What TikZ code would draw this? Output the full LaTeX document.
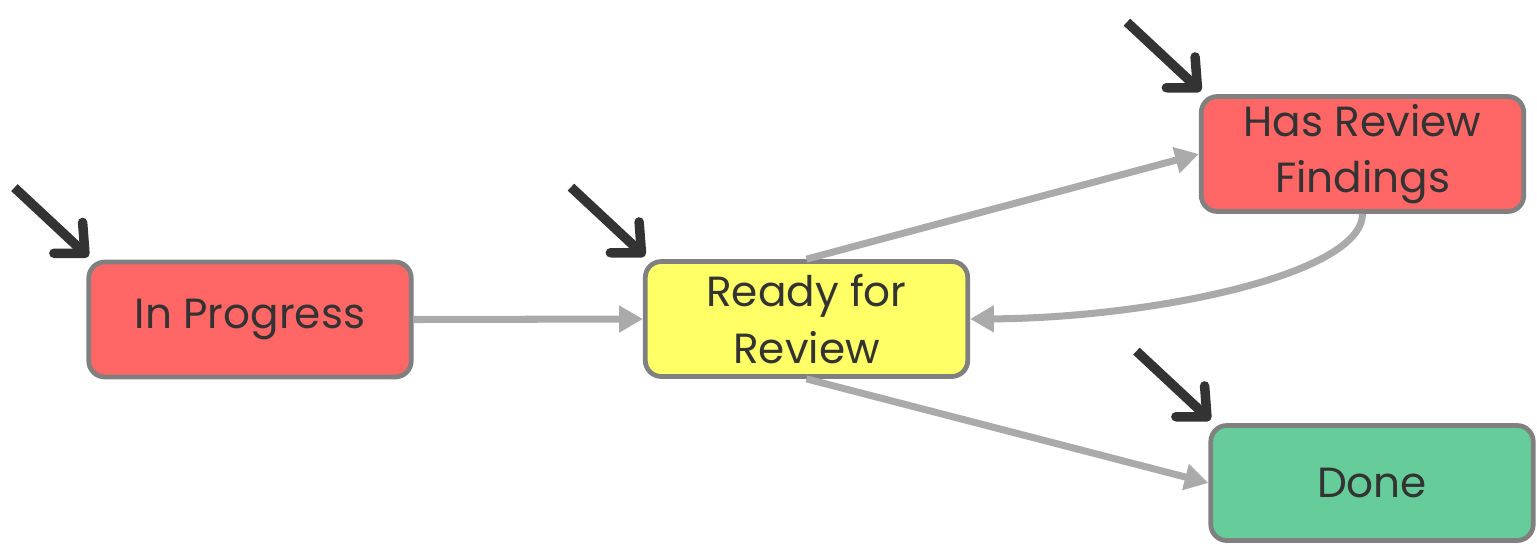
\documentclass[tikz,border=0pt]{standalone}
\usepackage{fontspec}
\setmainfont{Poppins}
\usetikzlibrary{arrows.meta}

\definecolor{boxred}{HTML}{FF6666}
\definecolor{boxyellow}{HTML}{FFFF66}
\definecolor{boxgreen}{HTML}{66CC99}
\definecolor{boxline}{HTML}{808080}
\definecolor{linkgray}{HTML}{AAAAAA}
\definecolor{ink}{HTML}{333333}

\tikzset{
  state/.style={draw=boxline, line width=2.7pt, rounded corners=0.32cm,
    minimum width=6.45cm, minimum height=2.3cm, align=center, text=ink,
    font=\fontsize{24}{32}\selectfont},
  link/.style={draw=linkgray, line width=4pt,
    -{Triangle[length=13.5pt, width=14.5pt]}},
  marker/.style={draw=ink, line width=5.4pt,
    -{Straight Barb[length=13pt, width=24pt, line cap=round, line join=round]}}
}

\begin{document}
\begin{tikzpicture}[x=0.02cm, y=-0.02cm]
  \useasboundingbox (0,0) rectangle (1537,548);

  % --- states ---
  \node[state, fill=boxred]    (prog)  at (250,319.5)  {In Progress};
  \node[state, fill=boxyellow] (ready) at (806.5,319)  {Ready for\\Review};
  \node[state, fill=boxred]    (find)  at (1362.5,154) {Has Review\\Findings};
  \node[state, fill=boxgreen]  (done)  at (1372,483)   {Done};

  % --- transitions ---
  \draw[link] (prog.east) -- (ready.west);
  \draw[link] (ready.north) -- (find.west);
  \draw[link] (find.south) .. controls (1362,275) and (1150,318) .. (ready.east);
  \draw[link] (ready.south) -- (done.west);

  % --- entry markers ---
  \foreach \s in {prog, ready, find, done} {
    \coordinate (\s-tail) at ([shift={(-72,-72)}]\s.north west);
    \draw[marker] (\s-tail) -- ([shift={(2,-3)}]\s.north west);
  }
\end{tikzpicture}
\end{document}
